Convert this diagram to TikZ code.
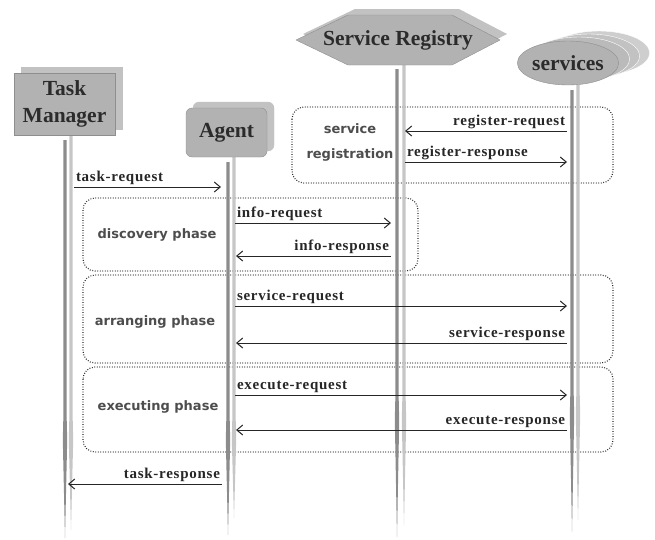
\documentclass[tikz,border=0pt]{standalone}
\usepackage{fontspec}
\setmainfont{Liberation Serif}
\newfontfamily\msgfont[LetterSpace=5]{Liberation Serif}
\newfontfamily\phasefont{DejaVu Sans}
\usetikzlibrary{shapes.geometric,shadows,arrows.meta}

\definecolor{boxgray}{HTML}{B2B2B2}
\definecolor{shadegray}{HTML}{C2C2C2}
\definecolor{rimgray}{HTML}{8E8E8E}
\definecolor{inkgray}{HTML}{2B2B2B}
\definecolor{phasegray}{HTML}{4D4D4D}
\definecolor{lifedark}{HTML}{8C8C8C}
\definecolor{lifelight}{HTML}{C6C6C6}

% x, top, taper, bottom, colour
\newcommand{\lifeline}[5]{%
  \fill[#5] (#1-1.6,#2) -- (#1+1.6,#2) -- (#1+1.6,#3-25) -- (#1+2.2,#3) -- (#1,#4) -- (#1-2.2,#3) -- (#1-1.6,#3-25) -- cycle;}

\begin{document}
\begin{tikzpicture}[x=1pt,y=-1pt]
        \tikzset{actor/.style = {fill=boxgray, draw=rimgray, text=inkgray, align=center, inner sep=0pt,
                   font=\fontsize{21.5}{27}\selectfont\bfseries},
                 shade/.style = {copy shadow={shadow xshift=#1, shadow yshift=6pt, fill=shadegray, draw=shadegray}},
                 phasebox/.style = {draw=inkgray, line width=1.1pt, dash pattern=on 0.9pt off 1.6pt, rounded corners=12pt},
                 phase/.style = {text=phasegray, align=center, font=\phasefont\bfseries\fontsize{13}{25}\selectfont},
                 msg/.style = {draw=black!85, line width=1pt, -{Straight Barb[length=6pt,width=10pt]}},
                 msglabel/.style = {pos=0, inner sep=1.5pt, text=black!85, font=\msgfont\fontsize{15}{15}\selectfont\bfseries}}
        \useasboundingbox (0,0) rectangle (655,539);

        % phases
        \draw[phasebox] (292,107) rectangle (613,183);
        \draw[phasebox] (83,198) rectangle (418,271);
        \draw[phasebox] (83,275) rectangle (613,363);
        \draw[phasebox] (83,367) rectangle (613,452);
        \node[phase] (srvreg) at (350,142) {service\\registration};
        \node[phase] (discovery) at (157,235) {discovery phase};
        \node[phase] (arranging) at (155,322) {arranging phase};
        \node[phase] (executing) at (158,407) {executing phase};

        % lifelines
        \lifeline{65}{140}{440}{538}{lifedark}
        \lifeline{71}{135}{440}{530}{lifelight}
        \lifeline{228}{162}{440}{535}{lifedark}
        \lifeline{234}{157}{440}{518}{lifelight}
        \lifeline{397}{69}{420}{537}{lifedark}
        \lifeline{404}{63}{420}{525}{lifelight}
        \lifeline{572}{90}{415}{532}{lifedark}
        \lifeline{578}{85}{415}{520}{lifelight}

        % participants
        \node[actor, shade=7pt, minimum width=101pt, minimum height=62pt] (tm) at (64.5,104) {Task\\Manager};
        \node[actor, shade=7pt, rounded corners=6pt, minimum width=81pt, minimum height=49pt] (agent) at (226.5,132.5) {Agent};
        \fill[shadegray] (303,34) -- (355,9) -- (459,9) -- (507,34) -- (459,59) -- (355,59) -- cycle;
        \filldraw[fill=boxgray, draw=rimgray] (296,40) -- (348,15) -- (452,15) -- (500,40) -- (452,65) -- (348,65) -- cycle;
        \node[actor, fill=none, draw=none] (registry) at (398,40) {Service Registry};
        \node[actor, ellipse, minimum width=100pt, minimum height=44pt,
              copy shadow={shadow xshift=31pt, shadow yshift=10pt, fill=shadegray!80, draw=white},
              copy shadow={shadow xshift=21pt, shadow yshift=7pt, fill=shadegray, draw=white},
              copy shadow={shadow xshift=11pt, shadow yshift=4pt, fill=boxgray!90, draw=white}] (services) at (568,63) {services};

        % messages
        \coordinate (treqA) at (74,187);   \coordinate (treqB) at (221,187);
        \coordinate (rreqA) at (567,131);  \coordinate (rreqB) at (405,131);
        \coordinate (rresA) at (405,162);  \coordinate (rresB) at (567,162);
        \coordinate (ireqA) at (235,223);  \coordinate (ireqB) at (391,223);
        \coordinate (iresA) at (391,256);  \coordinate (iresB) at (236,256);
        \coordinate (sreqA) at (235,306);  \coordinate (sreqB) at (567,306);
        \coordinate (sresA) at (567,343);  \coordinate (sresB) at (236,343);
        \coordinate (ereqA) at (235,395);  \coordinate (ereqB) at (567,395);
        \coordinate (eresA) at (567,430);  \coordinate (eresB) at (236,430);
        \coordinate (tresA) at (222,484);  \coordinate (tresB) at (68,484);

        \draw[msg] (treqA) -- node[msglabel, above right] (ltreq) {task-request} (treqB);
        \draw[msg] (rreqA) -- node[msglabel, above left] (lrreq) {register-request} (rreqB);
        \draw[msg] (rresA) -- node[msglabel, above right] (lrres) {register-response} (rresB);
        \draw[msg] (ireqA) -- node[msglabel, above right] (lireq) {info-request} (ireqB);
        \draw[msg] (iresA) -- node[msglabel, above left] (lires) {info-response} (iresB);
        \draw[msg] (sreqA) -- node[msglabel, above right] (lsreq) {service-request} (sreqB);
        \draw[msg] (sresA) -- node[msglabel, above left] (lsres) {service-response} (sresB);
        \draw[msg] (ereqA) -- node[msglabel, above right] (lereq) {execute-request} (ereqB);
        \draw[msg] (eresA) -- node[msglabel, above left] (leres) {execute-response} (eresB);
        \draw[msg] (tresA) -- node[msglabel, above left] (ltres) {task-response} (tresB);
\end{tikzpicture}
\end{document}
